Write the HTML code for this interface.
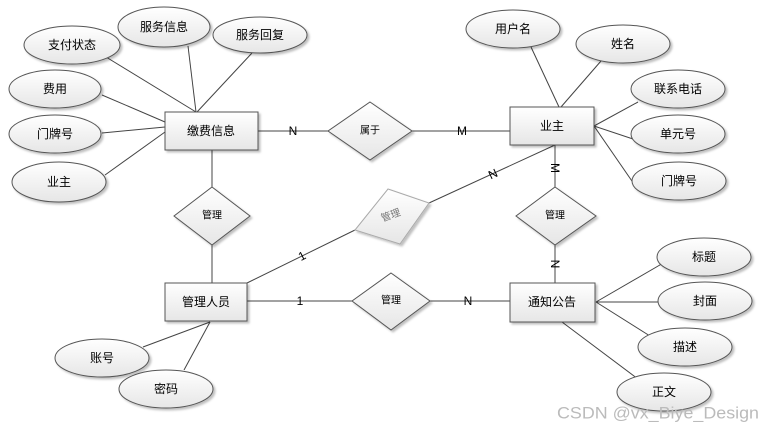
<!DOCTYPE html>
<html><head><meta charset="utf-8"><style>
body{margin:0;background:#fff;width:775px;height:433px;overflow:hidden}
svg text{font-family:"Liberation Sans","Noto Sans CJK SC",sans-serif;font-size:12px;fill:#000;text-anchor:middle;dominant-baseline:central}
</style></head><body>
<svg width="775" height="433" viewBox="0 0 775 433">
<defs>
<linearGradient id="g" x1="0" y1="0" x2="0" y2="1"><stop offset="0" stop-color="#fff"/><stop offset="1" stop-color="#e6e6e6"/></linearGradient>
<filter id="s" x="-20%" y="-20%" width="150%" height="150%"><feDropShadow dx="2" dy="2" stdDeviation="1" flood-color="#000" flood-opacity="0.25"/></filter>
</defs>
<g stroke="#444" stroke-width="1" fill="none">
<line x1="106" y1="57" x2="196" y2="112"/>
<line x1="188" y1="46" x2="196" y2="112"/>
<line x1="252" y1="53" x2="197" y2="112"/>
<line x1="102" y1="95" x2="165" y2="122"/>
<line x1="102" y1="133" x2="165" y2="127"/>
<line x1="105" y1="175" x2="165" y2="132"/>
<line x1="531" y1="47" x2="559" y2="107"/>
<line x1="601" y1="61" x2="561" y2="107"/>
<line x1="638" y1="102" x2="594" y2="126"/>
<line x1="633" y1="139" x2="594" y2="126"/>
<line x1="634" y1="184" x2="594" y2="126"/>
<line x1="665" y1="262" x2="596" y2="302"/>
<line x1="662" y1="302" x2="596" y2="302"/>
<line x1="650" y1="336" x2="596" y2="302"/>
<line x1="638" y1="379" x2="562" y2="322"/>
<line x1="143" y1="347" x2="210" y2="322"/>
<line x1="184" y1="370" x2="210" y2="322"/>
<line x1="258" y1="131" x2="328" y2="131"/>
<line x1="412" y1="131" x2="510" y2="131"/>
<line x1="212" y1="150" x2="212" y2="187"/>
<line x1="212" y1="245" x2="212" y2="283"/>
<line x1="555" y1="145" x2="555" y2="187"/>
<line x1="555" y1="245" x2="555" y2="283"/>
<line x1="247" y1="301" x2="352" y2="301"/>
<line x1="430" y1="301" x2="510" y2="301"/>
<line x1="247" y1="283" x2="355" y2="230"/>
<line x1="429" y1="203" x2="555" y2="145"/>
</g>
<g fill="url(#g)" stroke="#555" filter="url(#s)">
<ellipse cx="72" cy="45" rx="48" ry="19"/>
<ellipse cx="164" cy="27" rx="46" ry="20"/>
<ellipse cx="260" cy="35" rx="47" ry="18"/>
<ellipse cx="55" cy="89" rx="46" ry="19"/>
<ellipse cx="55" cy="134" rx="46" ry="19"/>
<ellipse cx="59" cy="182" rx="47" ry="20"/>
<ellipse cx="513" cy="29" rx="47" ry="19"/>
<ellipse cx="623" cy="44" rx="47" ry="19"/>
<ellipse cx="678" cy="89" rx="47" ry="19"/>
<ellipse cx="678" cy="134" rx="47" ry="19"/>
<ellipse cx="679" cy="181" rx="47" ry="19"/>
<ellipse cx="704" cy="257" rx="47" ry="19"/>
<ellipse cx="705" cy="301" rx="47" ry="19"/>
<ellipse cx="685" cy="347" rx="47" ry="19"/>
<ellipse cx="664" cy="392" rx="47" ry="19"/>
<ellipse cx="102" cy="358" rx="47" ry="19"/>
<ellipse cx="166" cy="389" rx="47" ry="19"/>
<rect x="165" y="112" width="93" height="38"/>
<rect x="510" y="107" width="84" height="38"/>
<rect x="165" y="283" width="82" height="38"/>
<rect x="510" y="283" width="85" height="39"/>
<polygon points="370,102 412,131 370,160 328,131"/>
<polygon points="212,187 250,216 212,245 174,216"/>
<polygon points="555,187 596,216 555,245 516,216"/>
<polygon points="391,273 430,301 391,330 352,301"/>
<polygon points="355,230 388,189 429,203 400,244" stroke="#aaa"/>
</g>
<text x="72" y="45">支付状态</text>
<text x="164" y="27">服务信息</text>
<text x="260" y="35">服务回复</text>
<text x="55" y="89">费用</text>
<text x="55" y="134">门牌号</text>
<text x="59" y="182">业主</text>
<text x="513" y="29">用户名</text>
<text x="623" y="44">姓名</text>
<text x="678" y="89">联系电话</text>
<text x="678" y="134">单元号</text>
<text x="679" y="181">门牌号</text>
<text x="704" y="257">标题</text>
<text x="705" y="301">封面</text>
<text x="685" y="347">描述</text>
<text x="664" y="392">正文</text>
<text x="102" y="358">账号</text>
<text x="166" y="389">密码</text>
<text x="211" y="131">缴费信息</text>
<text x="552" y="126">业主</text>
<text x="206" y="302">管理人员</text>
<text x="552" y="302">通知公告</text>
<text x="370" y="131" style="font-size:10px">属于</text>
<text x="212" y="216" style="font-size:10px">管理</text>
<text x="555" y="216" style="font-size:10px">管理</text>
<text x="391" y="301" style="font-size:10px">管理</text>
<text x="391" y="216" style="font-size:10px;fill:#777" transform="rotate(-20 391 216)">管理</text>
<text x="293" y="131">N</text>
<text x="462" y="131">M</text>
<text x="300" y="301">1</text>
<text x="468" y="301">N</text>
<text x="302" y="256" transform="rotate(-27 302 256)">1</text>
<text x="493" y="174" transform="rotate(-25 493 174)">N</text>
<text x="555" y="168" transform="rotate(90 555 168)">M</text>
<text x="555" y="264" transform="rotate(90 555 264)">N</text>
<text x="658" y="413" style="font-size:17px;fill:#bbb" textLength="202" lengthAdjust="spacingAndGlyphs">CSDN @vx_Biye_Design</text>
</svg>
</body></html>
